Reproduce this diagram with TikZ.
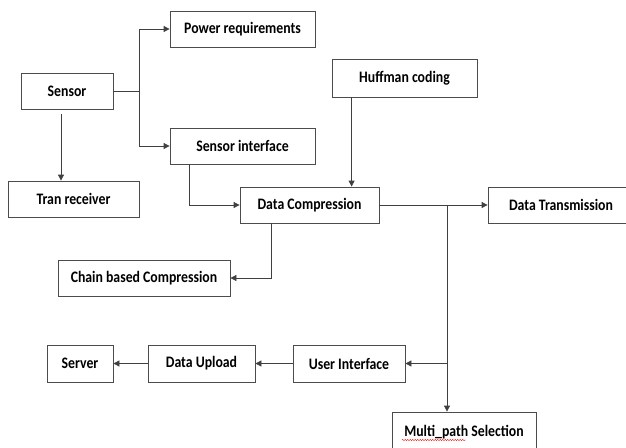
\documentclass[tikz,border=0pt]{standalone}
\usepackage{fontspec}
\setmainfont{Carlito}
\newfontfamily\labelfont[FakeStretch=0.86]{Carlito}
\usetikzlibrary{arrows.meta,decorations.pathmorphing}
\tikzset{
  box/.style={draw=black!70, line width=0.8pt, rectangle, inner sep=0pt, minimum height=36pt,
    font=\labelfont\fontsize{16}{18}\selectfont\bfseries, text=black},
  conn/.style={draw=black!75, line width=0.8pt},
  arr/.style={conn, -{Triangle[length=6pt,width=6pt]}},
}
\begin{document}
\begin{tikzpicture}[x=1pt,y=-1pt]
\useasboundingbox (0,0) rectangle (626,447);
\clip (0,0) rectangle (626,447);
\node[box, minimum width=145pt] (pow) at (242.5,29) {Power requirements};
\node[box, minimum width=92pt] (sensor) at (67,91) {Sensor};
\node[box, minimum width=145pt] (sif) at (242.5,146) {Sensor interface};
\node[box, minimum width=131pt] (tran) at (73.5,199) {Tran receiver};
\node[box, minimum width=145pt, minimum height=38pt] (huff) at (404.5,78) {Huffman coding};
\node[box, minimum width=139pt] (dc) at (309.5,205) {Data Compression};
\node[box, minimum width=146pt] (dt) at (561,205) {Data Transmission};
\node[box, minimum width=172pt] (chain) at (144,278) {Chain based Compression};
\node[box, minimum width=66pt, minimum height=37pt] (server) at (80,363.5) {Server};
\node[box, minimum width=107pt, minimum height=37pt] (upload) at (201.5,363.5) {Data Upload};
\node[box, minimum width=112pt, minimum height=37pt] (ui) at (349,363.5) {User Interface};
\node[box, minimum width=144pt, minimum height=40pt] (multi) at (464,432) {Multi\_path Selection};
\coordinate (j1) at (139,91);
\coordinate (j2) at (447,205);
\draw[conn] (sensor.east) -- (j1);
\draw[arr] (j1) |- (pow.west);
\draw[arr] (j1) |- (sif.west);
\draw[arr] ([xshift=-6pt,yshift=-5pt]sensor.south) -- ([xshift=-6pt]sensor.south |- tran.north);
\draw[arr] ([xshift=20pt]sif.south west) |- (dc.west);
\draw[arr] ([xshift=20pt]huff.south west) -- ([xshift=20pt]huff.south west |- dc.north);
\draw[arr] (dc.east) -- (dt.west);
\draw[arr] (j2) -- (j2 |- multi.north);
\draw[arr] (j2 |- ui.east) -- (ui.east);
\draw[arr] (ui.west) -- (upload.east);
\draw[arr] (upload.west) -- (server.east);
\draw[arr] ([xshift=32pt]dc.south west) |- (chain.east);
\draw[red, line width=0.4pt, decorate, decoration={snake, amplitude=0.6pt, segment length=2.5pt}] (402,440) -- (466,440);
\end{tikzpicture}
\end{document}
